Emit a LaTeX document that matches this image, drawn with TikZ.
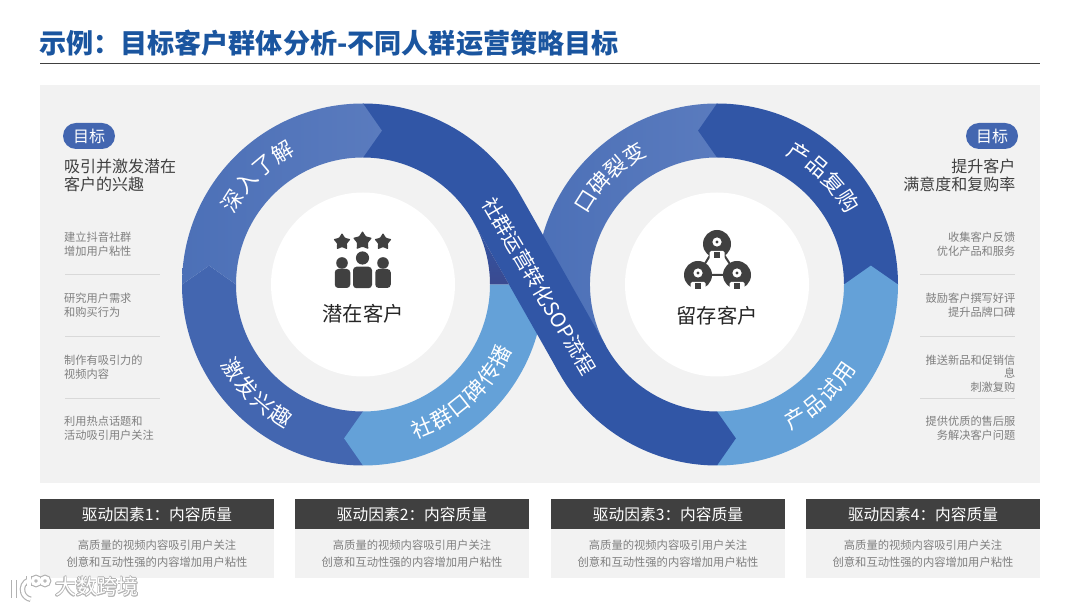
\documentclass[tikz,border=0pt]{standalone}
\usepackage{fontspec}
\setmainfont{Noto Sans CJK SC}
\usetikzlibrary{positioning, calc, shapes.geometric}
\definecolor{cTitle}{HTML}{1A559F}
\definecolor{cPanel}{HTML}{F2F2F2}
\definecolor{cDeep}{HTML}{3156A6}
\definecolor{cMid}{HTML}{4366B0}
\definecolor{cSoft}{HTML}{5A7BBE}
\definecolor{cSoftLow}{HTML}{4C70B7}
\definecolor{cSky}{HTML}{64A1D8}
\definecolor{cInk}{HTML}{404040}
\definecolor{cNote}{HTML}{7F7F7F}
\definecolor{cRule}{HTML}{D9D9D9}
\definecolor{cShade}{HTML}{3A4A90}
\newcommand{\px}[2]{\fontsize{#1}{#2}\selectfont}
% ring piece: centre, colour, from angle, to angle, tip offset
\newcommand{\ringpiece}[5]{
  \pgfmathsetmacro{\tipangle}{#4+#5}
  \fill[#2] ($(#1)+(#3:181pt)$) arc[start angle=#3, end angle=#4, radius=181pt]
    -- ($(#1)+(\tipangle:155pt)$) -- ($(#1)+(#4:127pt)$)
    arc[start angle=#4, end angle=#3, radius=127pt] -- cycle;
}
% ring label: centre, first angle, step, rotation offset, letters
\newcommand{\ringlabel}[5]{
  \foreach \ch [count=\i from 0] in {#5} {
    \pgfmathsetmacro{\here}{#2+\i*#3}
    \node[ringtext, rotate=\here+#4] (#1-#2-\i) at ($(#1)+(\here:155pt)$) {\ch};
  }
}
\tikzset{
  ringtext/.style={font=\px{21.5}{22}, text=white, inner sep=0pt},
  hubcircle/.style={circle, fill=white, minimum size=184pt, inner sep=0pt},
  hubtext/.style={font=\px{20.3}{21}, text=black!85, inner sep=0pt},
  goalpill/.style={fill=cMid, text=white, rounded corners=13pt, font=\px{16}{16},
    minimum width=52pt, minimum height=26pt, inner sep=0pt},
  goaltext/.style={font=\px{16}{18}, text=cInk, inner sep=0pt},
  notetext/.style={font=\px{11.2}{13.7}, text=cNote, inner sep=0pt},
  cardhead/.style={fill=cInk, text=white, font=\px{15.7}{16},
    minimum width=234pt, minimum height=30pt, inner sep=0pt},
  cardbody/.style={fill=cPanel, text=cNote, font=\px{11.3}{17}, align=center,
    minimum width=234pt, minimum height=49pt, inner sep=0pt},
  rulerline/.style={cRule, line width=0.8pt},
  starmark/.style={star, star points=5, star point ratio=1.75, fill=cInk, rounded corners=0.8pt, inner sep=0pt},
  bodymark/.style={fill=cInk, rounded corners=3.5pt, inner sep=0pt},
  memberdot/.pic={
    \fill[cInk] (0,0) circle[radius=14pt];
    \fill[white, rounded corners=1.5pt] (-7.5,-7) rectangle (7.5,-15);
    \fill[cInk] (-3,-8.5) rectangle (3,-14);
    \fill[white] (0,2) circle[radius=4.6pt];
    \fill[cInk] (0,2) circle[radius=1.7pt];
  },
}
\begin{document}
\begin{tikzpicture}[x=1pt, y=1pt]
\useasboundingbox (0,0) rectangle (1080,608);

% ---- Title ----
\node[anchor=west, inner sep=0pt, font=\px{27.1}{28}\bfseries, text=cTitle] (title) at (39,564.5)
  {示例：目标客户群体分析-不同人群运营策略目标};
\draw[cInk, line width=1.3pt] (40,544.5) -- (1040,544.5);

% ---- Panel ----
\fill[cPanel] (40,125) rectangle (1040,523);
\coordinate (leftring) at (363,323.5);
\coordinate (rightring) at (717,323.5);

% ---- Right ring pieces ----
\shade[left color=cSoftLow, right color=cSoft]
  ($(rightring)+(90:181pt)$) arc[start angle=90, end angle=209, radius=181pt]
  -- ($(rightring)+(209:127pt)$) arc[start angle=209, end angle=90, radius=127pt] -- cycle;
\ringpiece{rightring}{cDeep}{0}{90}{7}
\ringpiece{rightring}{cSky}{270}{360}{7}

% ---- Left ring pieces ----
\ringpiece{leftring}{cMid}{270}{180}{-7}
\ringpiece{leftring}{cSky}{360}{270}{-7}

% ---- S band ----
\fill[cDeep] ($(leftring)+(90:181pt)$) arc[start angle=90, end angle=29.6, radius=181pt]
  -- ($(rightring)+(209.6:127pt)$) arc[start angle=209.6, end angle=270, radius=127pt]
  -- ($(rightring)+(277:155pt)$) -- ($(rightring)+(270:181pt)$)
  arc[start angle=270, end angle=209.6, radius=181pt]
  -- ($(leftring)+(29.6:127pt)$) arc[start angle=29.6, end angle=90, radius=127pt] -- cycle;
\shade[top color=cDeep, bottom color=cShade]
  ($(leftring)+(0:127pt)$) arc[start angle=0, end angle=29.6, radius=127pt]
  -- ($(leftring)+(0:146pt)$) -- cycle;

% chevron over the band
\shade[left color=cSoftLow, right color=cSoft]
  ($(leftring)+(180:181pt)$) arc[start angle=180, end angle=90, radius=181pt]
  -- ($(leftring)+(83:155pt)$) -- ($(leftring)+(90:127pt)$)
  arc[start angle=90, end angle=180, radius=127pt]
  -- ($(leftring)+(173:155pt)$) -- cycle;

% ---- Ring labels ----
\ringlabel{leftring}{147.5}{-8.8}{-90}{深,入,了,解}
\ringlabel{leftring}{213}{8.4}{90}{激,发,兴,趣}
\ringlabel{leftring}{292.5}{8}{90}{社,群,口,碑,传,播}
\ringlabel{rightring}{147.8}{-8.5}{-90}{口,碑,裂,变}
\ringlabel{rightring}{58}{-8.5}{-90}{产,品,复,购}
\ringlabel{rightring}{300.5}{8.2}{90}{产,品,试,用}
\node[font=\px{20.2}{21}, text=white, inner sep=0pt, rotate=-59.5] (bandtext) at (539,322)
  {社群运营转化SOP流程};

% ---- Hubs ----
\node[hubcircle] (lefthub) at (leftring) {};
\node[hubcircle] (righthub) at (rightring) {};
\node[hubtext] (lefthubtext) at (363,294) {潜在客户};
\node[hubtext] (righthubtext) at (717,292) {留存客户};

% people and stars
\node[starmark, minimum size=18pt] (stara) at (342,366) {};
\node[starmark, minimum size=20pt] (starb) at (362.5,367) {};
\node[starmark, minimum size=18pt] (starc) at (383,366) {};
\fill[cInk] (342,345) circle[radius=5.8pt] (362.5,350) circle[radius=6.6pt] (383,345) circle[radius=5.8pt];
\node[bodymark, minimum width=15.5pt, minimum height=19pt] (mana) at (342.5,329.5) {};
\node[bodymark, minimum width=19pt, minimum height=21.5pt] (manb) at (362.5,330.5) {};
\node[bodymark, minimum width=15.5pt, minimum height=19pt] (manc) at (383,329.5) {};

% linked members
\draw[cInk, line width=2pt] (717,364) -- (698,333) -- (737,333) -- cycle;
\pic at (717,364) {memberdot};
\pic at (698,333) {memberdot};
\pic at (737,333) {memberdot};

% ---- Left column ----
\node[goalpill] (leftgoal) at (89,472) {目标};
\node[goaltext, anchor=north west, align=left] (leftaim) at (64,449)
  {吸引并激发潜在\\客户的兴趣};
\node[notetext, anchor=west, align=left] (noteone) at (64,364) {建立抖音社群\\增加用户粘性};
\node[notetext, anchor=west, align=left] (notetwo) at (64,303) {研究用户需求\\和购买行为};
\node[notetext, anchor=west, align=left] (notethree) at (64,241) {制作有吸引力的\\视频内容};
\node[notetext, anchor=west, align=left] (notefour) at (64,179.5) {利用热点话题和\\活动吸引用户关注};
\foreach \y in {334,272,210} \draw[rulerline] (65,\y) -- (160,\y);

% ---- Right column ----
\node[goalpill] (rightgoal) at (992,472) {目标};
\node[goaltext, anchor=north east, align=right] (rightaim) at (1015.5,449)
  {提升客户\\满意度和复购率};
\node[notetext, anchor=east, align=right] (tipone) at (1015.5,364) {收集客户反馈\\优化产品和服务};
\node[notetext, anchor=east, align=right] (tiptwo) at (1015.5,303) {鼓励客户撰写好评\\提升品牌口碑};
\node[notetext, anchor=east, align=right] (tipthree) at (1015.5,234.5) {推送新品和促销信\\息\\刺激复购};
\node[notetext, anchor=east, align=right] (tipfour) at (1015.5,179.5) {提供优质的售后服\\务解决客户问题};
\foreach \y in {334,272,210} \draw[rulerline] (920,\y) -- (1015,\y);

% ---- Cards ----
\foreach \x/\n in {157/1,412/2,668/3,923/4} {
  \node[cardhead] (head\n) at (\x,94) {驱动因素\n：内容质量};
  \node[cardbody, below=0pt of head\n] (body\n)
    {高质量的视频内容吸引用户关注\\创意和互动性强的内容增加用户粘性};
}

% ---- Mark ----
\foreach \a in {0,45,...,315} {
  \node[font=\px{21}{21}, text=black!30, inner sep=0pt] (markback\a) at ($(97,21)+(\a:1pt)$) {大数跨境};
}
\node[font=\px{21}{21}, text=white, inner sep=0pt] (marktext) at (97,21) {大数跨境};
\foreach \c/\w in {black!30/5.5, white/3.2} {
  \draw[\c, line width=\w pt] (14,28) -- (14,10);
  \draw[\c, line width=\w pt] (29,28) arc[start angle=110, end angle=260, radius=10pt];
  \draw[\c, line width=\w pt] (29,32) -- (29,22);
  \draw[\c, line width=\w pt] (36,27) circle[radius=3.5pt] (45,27) circle[radius=3.5pt];
}
\end{tikzpicture}
\end{document}
